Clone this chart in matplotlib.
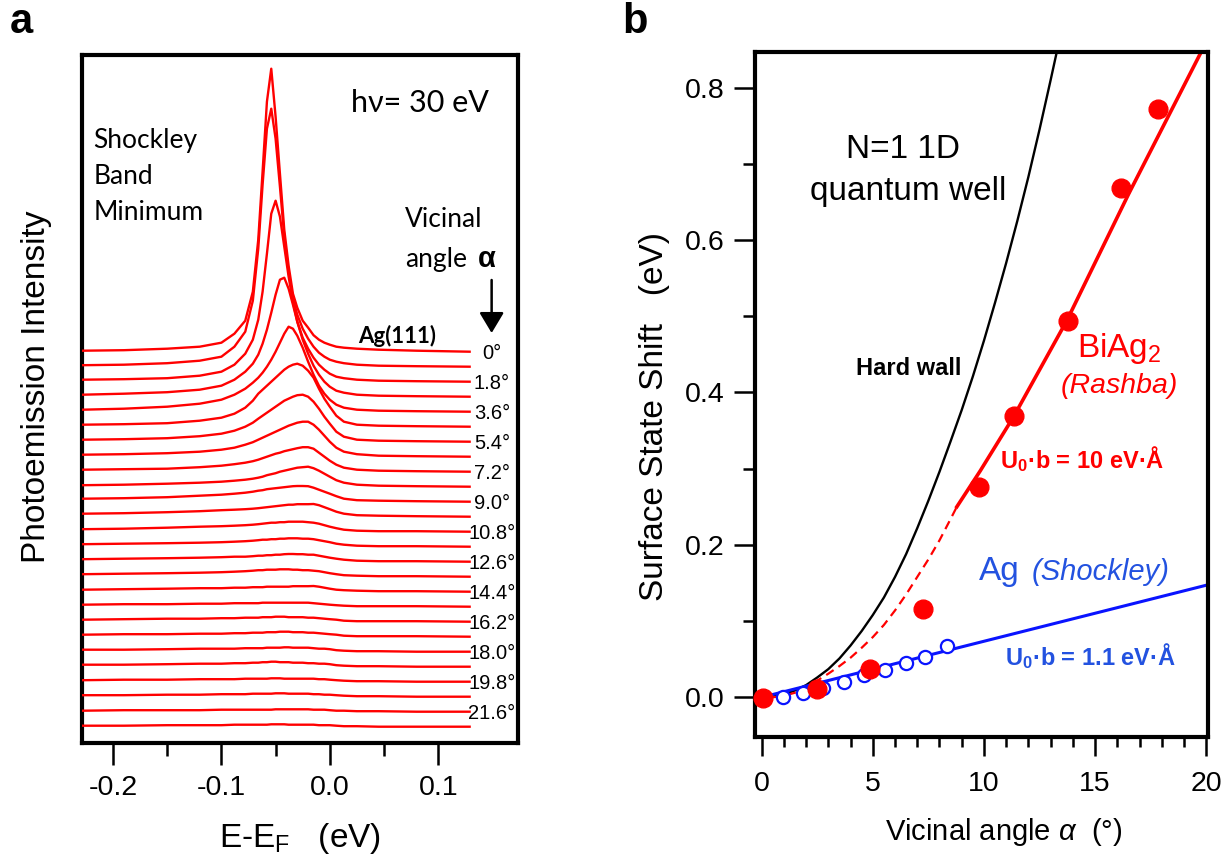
import matplotlib
matplotlib.use('Agg')
import matplotlib.pyplot as plt
import numpy as np
from matplotlib.ticker import FixedLocator, FormatStrFormatter

plt.rcParams['font.family'] = ['Liberation Sans', 'DejaVu Sans']
plt.rcParams['axes.unicode_minus'] = False
plt.rcParams['mathtext.fontset'] = 'custom'
plt.rcParams['mathtext.rm'] = 'Liberation Sans'
plt.rcParams['mathtext.it'] = 'Liberation Sans:italic'
plt.rcParams['mathtext.bf'] = 'Liberation Sans:bold'

RED = '#ff0000'
BLUE_LINE = '#0a14ff'
BLUE_TXT = '#2352e0'

# ---- panel a : EDC stack (intensity in px-like units above each baseline)
ENERGY = [-0.228, -0.19, -0.15, -0.12, -0.10, -0.088, -0.078, -0.071, -0.066, -0.062,
          -0.058, -0.054, -0.050, -0.046, -0.042, -0.038, -0.034, -0.030, -0.025, -0.020,
          -0.015, -0.010, -0.005, 0.000, 0.006, 0.013, 0.025, 0.045, 0.080, 0.129]

SPECTRA = [
    [1, 1.5, 3, 5, 9, 18, 31, 60, 112, 180, 250, 283, 235, 178, 122, 86, 58, 44, 31, 24, 16.5, 12, 9, 7, 5, 4, 3, 2, 1, 0],
    [1.5, 2, 3.5, 6, 10, 20, 35, 66, 118, 182, 238, 258, 228, 180, 130, 95, 68, 52, 38, 28, 20, 14, 10, 7, 5, 3.5, 2, 1, 0.5, 0],
    [2, 2.5, 3.5, 6, 10, 17, 28, 42, 62, 90, 128, 168, 181, 165, 135, 105, 80, 60, 44, 33, 24, 17, 12, 8, 5, 3.5, 2, 1, 0.5, 0],
    [2, 3, 4.5, 7, 11, 17, 25, 33, 42, 53, 67, 84, 102, 117, 119, 108, 92, 75, 57, 43, 31, 22, 15, 10, 6, 4, 2, 1, 0.5, 0],
    [2, 3, 5, 8, 12, 17, 23, 29, 34, 39, 45, 52, 60, 69, 78, 85, 83, 76, 64, 50, 37, 26, 18, 12, 7, 4, 2, 1, 0.5, 0],
    [2, 2.5, 3.5, 6, 9, 13, 19, 26, 33, 37, 41, 45, 49, 53, 57, 60, 62, 63, 61, 56, 49, 38, 28, 20, 11, 5, 2, 1, 0.5, 0],
    [2, 2.5, 3.5, 5.5, 8, 11, 15, 19, 23, 26, 29, 32, 35, 38, 41, 43, 45, 46.5, 47, 45, 40, 33, 25, 18, 10, 5, 2, 1, 0.5, 0],
    [2, 2.5, 3.5, 5, 7, 9, 12, 14.5, 17, 19, 21, 23, 25, 27, 29, 31, 32.5, 34, 35, 35, 32, 27, 21, 15, 9, 5, 2.5, 1, 0.5, 0],
    [2, 2.5, 3, 4.5, 6, 7.5, 9, 10.5, 12, 13.5, 15, 16.5, 18, 19, 20.5, 21.5, 22.5, 23.5, 24.5, 24.5, 23, 19, 15, 11, 7, 4, 2, 1, 0.5, 0],
    [1.5, 2, 3, 4, 5, 6, 7, 8, 9, 10, 11.5, 12.5, 13.5, 15, 16, 17, 18, 19, 19.5, 20, 18.5, 16, 13, 10, 6.5, 4, 2, 1, 0.5, 0],
    [3, 3.5, 4.5, 6, 7, 8, 9, 10, 11, 11.5, 12.5, 13, 13.5, 14, 14.5, 15, 15.5, 15.7, 15.7, 15.5, 14, 12, 10, 8, 5.5, 3, 1.5, 1, 0.5, 0],
    [3, 3.5, 4.5, 5.5, 6.5, 7, 7.5, 8, 8.5, 9, 9.5, 10, 10.5, 11, 11.5, 12, 12, 12.5, 12.5, 12.5, 12.7, 11.5, 9.5, 7.5, 5, 3, 1.5, 1, 0.5, 0],
    [2.5, 3, 4, 5, 5.5, 6, 6.5, 7, 7.5, 8, 8.5, 9, 9, 9.5, 9.5, 10, 10, 10, 10, 9.5, 9, 8, 6.5, 5, 3.5, 2, 1, 0.5, 0.5, 0],
    [2.5, 3, 3.5, 4, 4.5, 5, 5.5, 6, 6.5, 7, 7, 7.5, 7.5, 8, 8, 8.4, 8.4, 8.4, 8, 8, 7.5, 6.5, 5.5, 4.5, 3, 2, 1, 0.5, 0.5, 0],
    [2.5, 3, 3.5, 4, 4.5, 5, 5, 5.5, 6, 6, 6.5, 6.5, 7, 7, 7.5, 7.7, 7.7, 7.5, 7.5, 7, 7, 6, 5, 4, 3, 2, 1, 0.5, 0.5, 0],
    [2.5, 3, 3.5, 4, 4.5, 5, 5.5, 6, 6.5, 6.5, 7, 7, 7, 7.4, 7.4, 7.4, 7, 7, 6.5, 6.5, 6, 5.5, 4.5, 3.5, 2.5, 1.5, 1, 0.5, 0.5, 0],
    [2, 2.5, 3, 3.5, 3.5, 4, 4, 4.5, 4.5, 4.5, 5, 5, 5, 5, 5, 5, 5.5, 5.5, 5.5, 5.5, 5.7, 5, 4, 3, 2, 1.5, 1, 0.5, 0.5, 0],
    [2, 2.5, 2.5, 3, 3, 3.5, 3.5, 3.5, 3.5, 4, 4, 4, 4, 4, 4, 4, 4, 4, 4, 4, 3.5, 3, 2.5, 2, 1.5, 1, 0.5, 0.5, 0.5, 0],
    [2, 2.5, 3, 3, 3.5, 3.5, 4, 4, 4, 4.5, 4.5, 4.5, 5, 5, 5, 4.5, 4.5, 4.5, 4.5, 4, 4, 3.5, 3, 2.5, 2, 1, 0.5, 0.5, 0.5, 0],
    [2, 2.5, 2.5, 3, 3, 3.5, 3.5, 4, 4, 4, 4.5, 4.5, 4.5, 5, 5, 5, 4.5, 4.5, 4.5, 4, 4, 3.5, 3, 2.5, 2, 1, 0.5, 0.5, 0.5, 0],
    [2, 2, 2.5, 3, 3, 3, 3.5, 3.5, 3.5, 3.5, 4, 4, 4, 4, 4.4, 4.4, 4, 4, 4, 4, 3.5, 3, 3, 2.5, 1.5, 1, 0.5, 0.5, 0, 0],
    [2, 2, 2.5, 3, 3, 3.5, 3.5, 4, 4, 4.5, 4.5, 5, 5, 4.5, 4.5, 4.5, 4, 4, 4, 3.5, 3.5, 3, 3, 2.5, 1.5, 1, 0.5, 0.5, 0, 0],
    [1.5, 2, 2, 2.5, 2.5, 2.5, 3, 3, 3, 3, 3, 3.4, 3.4, 3.4, 3, 3, 3, 3, 3, 3, 3, 2.5, 2.5, 2, 1.5, 1, 0.5, 0.5, 0, 0],
    [1.5, 1.5, 2, 2, 2.5, 2.5, 2.5, 3, 3, 3, 3, 3, 3.4, 3.4, 3.4, 3, 3, 3, 3, 3, 2.5, 2.5, 2, 2, 1.5, 1, 0.5, 0.5, 0, 0],
    [1, 1.5, 1.5, 1.5, 2, 2, 2, 2, 2, 2, 2, 2, 2.4, 2.4, 2.4, 2.4, 2.4, 2.4, 2.4, 2.4, 2, 2, 2, 1.5, 1, 1, 0.5, 0.5, 0, 0],
    [1, 1, 1.5, 1.5, 1.5, 2, 2, 2, 2, 2, 2, 2.4, 2.4, 2.4, 2.4, 2, 2, 2, 2, 2, 2, 1.5, 1.5, 1.5, 1, 0.5, 0.5, 0, 0, 0],
]
ANGLE_LABELS = ['0°', '1.8°', '3.6°', '5.4°', '7.2°', '9.0°', '10.8°', '12.6°',
                '14.4°', '16.2°', '18.0°', '19.8°', '21.6°']

# ---- panel b : surface state shift vs vicinal angle
HW_X = [0.5, 1.0, 1.5, 2.0, 2.5, 3.0, 3.5, 4.0, 4.5, 5.0, 5.5, 6.0, 6.5, 7.0, 7.5,
        8.0, 8.5, 9.0, 9.5, 10.0, 10.5, 11.0, 11.5, 12.0, 12.5, 13.0, 13.3]
HW_Y = [0.001, 0.004, 0.009, 0.016, 0.026, 0.037, 0.051, 0.068, 0.087, 0.108, 0.131,
        0.158, 0.188, 0.222, 0.258, 0.296, 0.336, 0.377, 0.421, 0.468, 0.518, 0.570,
        0.625, 0.683, 0.745, 0.810, 0.850]
BI_DASH_X = [0.5, 1.0, 1.5, 2.0, 2.5, 3.0, 3.5, 4.0, 4.5, 5.0, 5.5, 6.0, 6.5, 7.0,
             7.5, 8.0, 8.5, 8.78]
BI_DASH_Y = [0.0, 0.002, 0.006, 0.013, 0.022, 0.031, 0.041, 0.052, 0.065, 0.079, 0.095,
             0.114, 0.135, 0.158, 0.181, 0.206, 0.234, 0.25]
BI_FIT_X = [8.78, 9.83, 11.33, 13.74, 16.5, 19.74]
BI_FIT_Y = [0.25, 0.297, 0.368, 0.495, 0.66, 0.845]
AG_FIT_X = [0.0, 20.1]
AG_FIT_Y = [0.0, 0.1478]
BI_X = [0.04, 2.48, 4.88, 7.28, 9.76, 11.37, 13.77, 16.17, 17.82]
BI_Y = [-0.001, 0.0105, 0.037, 0.1155, 0.276, 0.369, 0.494, 0.668, 0.772]
AG_X = [0.97, 1.87, 2.77, 3.71, 4.61, 5.55, 6.50, 7.36, 8.33]
AG_Y = [0.001, 0.005, 0.012, 0.020, 0.029, 0.036, 0.045, 0.053, 0.067]

fig = plt.figure(figsize=(12.32, 8.58), dpi=100)
W, H = 1232.0, 858.0

def axes_px(left, top, right, bottom):
    return fig.add_axes([left / W, 1 - bottom / H, (right - left) / W, (bottom - top) / H])

# ================= panel a =================
ax = axes_px(82, 55, 518.3, 743)
ax.set_xlim(-0.2286, 0.1739)
ax.set_ylim(0, 688)
base_top, step = 391.3, 15.0
for k, spec in enumerate(SPECTRA):
    ax.plot(ENERGY, base_top - step * k + np.array(spec), color=RED, lw=1.7, zorder=3)
for i, lab in enumerate(ANGLE_LABELS):
    ax.text(0.1496, base_top - step * 2 * i - 2, lab, ha='center', va='center',
            fontsize=14.5, zorder=4)

for s in ax.spines.values():
    s.set_linewidth(3)
ax.xaxis.set_major_locator(FixedLocator([-0.2, -0.1, 0.0, 0.1]))
ax.xaxis.set_minor_locator(FixedLocator([-0.15, -0.05, 0.05]))
ax.xaxis.set_major_formatter(FormatStrFormatter('%.1f'))
ax.tick_params(axis='x', which='major', length=16, width=1.8, pad=7, labelsize=20.5)
ax.tick_params(axis='x', which='minor', length=9.5, width=1.8)
ax.tick_params(axis='y', which='both', left=False, labelleft=False)

lato = ['Lato', 'DejaVu Sans']
ax.text(0.0832, 631.3, 'h\u03bd= 30 eV', family=lato, fontsize=22, ha='center', va='baseline')
for i, line in enumerate(['Shockley', 'Band', 'Minimum']):
    ax.text(-0.2182, 594.7 - 35.8 * i, line, family=lato, fontsize=19, ha='left', va='baseline')
ax.text(0.0694, 516.3, 'Vicinal', family=lato, fontsize=19, ha='left', va='baseline')
ax.text(0.0694, 476.3, 'angle', family=lato, fontsize=19, ha='left', va='baseline')
ax.text(0.1370, 476.3, '\u03b1', fontsize=21, fontweight='bold', ha='left', va='baseline')
ax.annotate('', xy=(0.1493, 410), xytext=(0.1493, 463),
            arrowprops=dict(arrowstyle='-|>,head_length=0.5,head_width=0.3', lw=1.8,
                            color='black', mutation_scale=25, shrinkA=0, shrinkB=0))
ax.text(0.0624, 399.7, 'Ag(111)', family=lato, fontsize=16, fontweight='bold',
        ha='center', va='baseline')

fig.text(36.7 / W, 1 - 386.7 / H, 'Photoemission Intensity', rotation=90,
         ha='center', va='center', fontsize=24)
fig.text(300.2 / W, 1 - 846.7 / H, 'E-E$_\\mathrm{F}$   (eV)', ha='center',
         va='baseline', fontsize=24)
fig.text(10 / W, 1 - 33.3 / H, 'a', fontsize=30, fontweight='bold', ha='left', va='baseline')

# ================= panel b =================
bx = axes_px(755, 51.7, 1208, 736.7)
bx.set_xlim(-0.30, 20.08)
bx.set_ylim(-0.0517, 0.8472)

bx.plot(HW_X, HW_Y, color='black', lw=1.7, zorder=2)
bx.plot(BI_DASH_X, BI_DASH_Y, color=RED, lw=1.6, ls=(0, (4, 2.6)), zorder=2)
bx.plot(BI_FIT_X, BI_FIT_Y, color=RED, lw=2.6, zorder=2)
bx.plot(AG_FIT_X, AG_FIT_Y, color=BLUE_LINE, lw=2.2, zorder=2)
bx.plot(AG_X, AG_Y, 'o', ms=9.5, mfc='white', mec=BLUE_LINE, mew=1.6, zorder=3)
bx.plot(BI_X, BI_Y, 'o', ms=13.5, color=RED, mec=RED, zorder=4, clip_on=False)

for s in bx.spines.values():
    s.set_linewidth(3)
bx.xaxis.set_major_locator(FixedLocator([0, 5, 10, 15, 20]))
bx.xaxis.set_minor_locator(FixedLocator([v for v in range(1, 20) if v % 5]))
bx.yaxis.set_major_locator(FixedLocator([0.0, 0.2, 0.4, 0.6, 0.8]))
bx.yaxis.set_minor_locator(FixedLocator([0.1, 0.3, 0.5, 0.7]))
bx.yaxis.set_major_formatter(FormatStrFormatter('%.1f'))
bx.tick_params(axis='x', which='major', length=14, width=1.8, pad=11, labelsize=20.5)
bx.tick_params(axis='x', which='minor', length=7.5, width=1.8)
bx.tick_params(axis='y', which='major', length=15, width=1.8, pad=7, labelsize=20.5)
bx.tick_params(axis='y', which='minor', length=8.5, width=1.8)

bx.text(6.38, 0.7073, 'N=1 1D', fontsize=24, ha='center', va='baseline')
bx.text(6.57, 0.6526, 'quantum well', fontsize=24, ha='center', va='baseline')
bx.text(6.60, 0.423, 'Hard wall', fontsize=17, fontweight='bold', ha='center', va='baseline')
bx.text(14.19, 0.447, 'BiAg$_\\mathrm{2}$', fontsize=24, color=RED, ha='left', va='baseline')
bx.text(16.1, 0.399, '(Rashba)', fontsize=20.5, style='italic', color=RED,
        ha='center', va='baseline')
bx.text(10.73, 0.3005, 'U$_\\mathbf{0}$\u00b7b = 10 eV\u00b7\u00c5', fontsize=17,
        fontweight='bold', color=RED, ha='left', va='baseline')
bx.text(9.76, 0.154, 'Ag', fontsize=24, color=BLUE_TXT, ha='left', va='baseline')
bx.text(12.16, 0.154, '(Shockley)', fontsize=21, style='italic', color=BLUE_TXT,
        ha='left', va='baseline')
bx.text(10.96, 0.0424, 'U$_\\mathbf{0}$\u00b7b = 1.1 eV\u00b7\u00c5', fontsize=17,
        fontweight='bold', color=BLUE_TXT, ha='left', va='baseline')

fig.text(655 / W, 1 - 416.7 / H, 'Surface State Shift   (eV)', rotation=90,
         ha='center', va='center', fontsize=24)
fig.text(1003.5 / W, 1 - 840 / H, 'Vicinal angle $\\mathit{\\alpha}$  (\u00b0)',
         ha='center', va='baseline', fontsize=21)
fig.text(622 / W, 1 - 33.3 / H, 'b', fontsize=30, fontweight='bold', ha='left', va='baseline')

fig.savefig('out.png', dpi=100)
